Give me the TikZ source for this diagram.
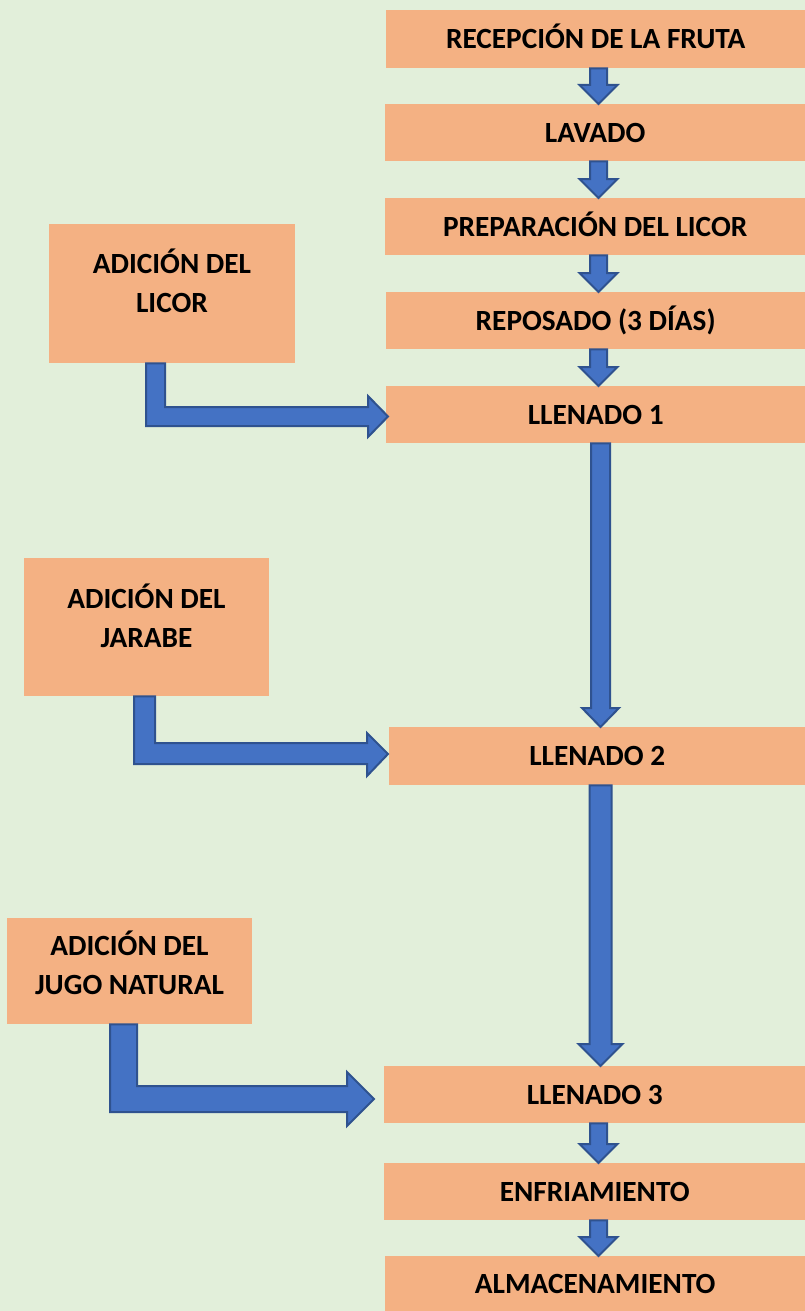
\documentclass[tikz,border=0pt]{standalone}
\usepackage{fontspec}
\setmainfont{Carlito}
\usetikzlibrary{calc}
\definecolor{bgc}{HTML}{E2EFDA}
\definecolor{boxc}{HTML}{F4B183}
\definecolor{arrc}{HTML}{4472C4}
\definecolor{arrd}{HTML}{2F528F}
\newcommand\dnarr[6]{%
  \draw[barrow] let \p1=(#1.south), \p2=(#2.north) in
   ({(#3-#4)*1pt},\y1) -- ({(#3+#4)*1pt},\y1) -- ({(#3+#4)*1pt},{\y2+#6pt})
   -- ({(#3+#5)*1pt},{\y2+#6pt}) -- ({#3*1pt},\y2) -- ({(#3-#5)*1pt},{\y2+#6pt})
   -- ({(#3-#4)*1pt},{\y2+#6pt}) -- cycle;}
\begin{document}
\begin{tikzpicture}[x=1pt,y=-1pt,
  mbox/.style={rectangle,fill=boxc,inner sep=0pt,anchor=north west,
     font=\fontsize{29.3}{39}\selectfont\bfseries,text height=19.5pt,text depth=0pt},
  lbox/.style={rectangle,fill=boxc,inner sep=0pt,anchor=north west},
  ltxt/.style={align=center,inner sep=0pt,anchor=base,font=\fontsize{29.3}{39}\selectfont\bfseries},
  barrow/.style={fill=arrc,draw=arrd,line width=2pt,line join=miter}]
\fill[bgc] (0,0) rectangle (805,1311);
\useasboundingbox (0,0) rectangle (805,1311);
% main column
\node[mbox,minimum width=419pt,minimum height=58pt] (rec) at (386,10) {RECEPCIÓN DE LA FRUTA};
\node[mbox,minimum width=420pt,minimum height=57pt] (lav) at (385,104) {LAVADO};
\node[mbox,minimum width=420pt,minimum height=57pt] (prep) at (385,198) {PREPARACIÓN DEL LICOR};
\node[mbox,minimum width=419pt,minimum height=57pt] (rep) at (386,292) {REPOSADO (3 DÍAS)};
\node[mbox,minimum width=419pt,minimum height=57pt] (ll1) at (386,386) {LLENADO 1};
\node[mbox,minimum width=416pt,minimum height=58pt] (ll2) at (389,727) {LLENADO 2};
\node[mbox,minimum width=421pt,minimum height=57pt] (ll3) at (384,1066) {LLENADO 3};
\node[mbox,minimum width=421pt,minimum height=57pt] (enf) at (384,1163) {ENFRIAMIENTO};
\node[mbox,minimum width=420pt,minimum height=55pt] (alm) at (385,1256) {ALMACENAMIENTO};
% left boxes
\node[lbox,minimum width=246pt,minimum height=139pt] (licor) at (49,224) {};
\node[lbox,minimum width=245pt,minimum height=138pt] (jar) at (24,558) {};
\node[lbox,minimum width=245pt,minimum height=106pt] (jugo) at (7,918) {};
\node[ltxt] (licort) at (172,312) {ADICIÓN DEL\\LICOR};
\node[ltxt] (jart) at (146.5,647) {ADICIÓN DEL\\JARABE};
\node[ltxt] (jugot) at (129.5,994) {ADICIÓN DEL\\JUGO NATURAL};
% straight arrows
\dnarr{rec}{lav}{598.5}{8.5}{19}{19}
\dnarr{lav}{prep}{598.5}{8.5}{19}{19}
\dnarr{prep}{rep}{598.5}{8.5}{19}{19}
\dnarr{rep}{ll1}{598.5}{8.5}{19}{19}
\dnarr{ll1}{ll2}{600.5}{9.5}{18.5}{19}
\dnarr{ll2}{ll3}{600.5}{11}{22}{22}
\dnarr{ll3}{enf}{598.5}{8.5}{19}{19}
\dnarr{enf}{alm}{598.5}{8.5}{19}{19}
% bent arrows
\draw[barrow] let \p1=(licor.south), \p2=(ll1.west) in
  (146pt,\y1) -- (165pt,\y1) -- (165pt,-407pt) -- ({\x2-18pt},-407pt) -- ({\x2-18pt},-396pt)
  -- ({\x2+2pt},-416.5pt) -- ({\x2-18pt},-437pt) -- ({\x2-18pt},-426pt) -- (146pt,-426pt) -- cycle;
\draw[barrow] let \p1=(jar.south), \p2=(ll2.west) in
  (134pt,\y1) -- (155pt,\y1) -- (155pt,-743pt) -- ({\x2-22pt},-743pt) -- ({\x2-22pt},-733pt)
  -- ({\x2-1pt},-754pt) -- ({\x2-22pt},-776pt) -- ({\x2-22pt},-764pt) -- (134pt,-764pt) -- cycle;
\draw[barrow] let \p1=(jugo.south), \p2=(ll3.west) in
  (110pt,\y1) -- (137pt,\y1) -- (137pt,-1086pt) -- ({\x2-37pt},-1086pt) -- ({\x2-37pt},-1072pt)
  -- ({\x2-10pt},-1099pt) -- ({\x2-37pt},-1126pt) -- ({\x2-37pt},-1112pt) -- (110pt,-1112pt) -- cycle;
\end{tikzpicture}
\end{document}
